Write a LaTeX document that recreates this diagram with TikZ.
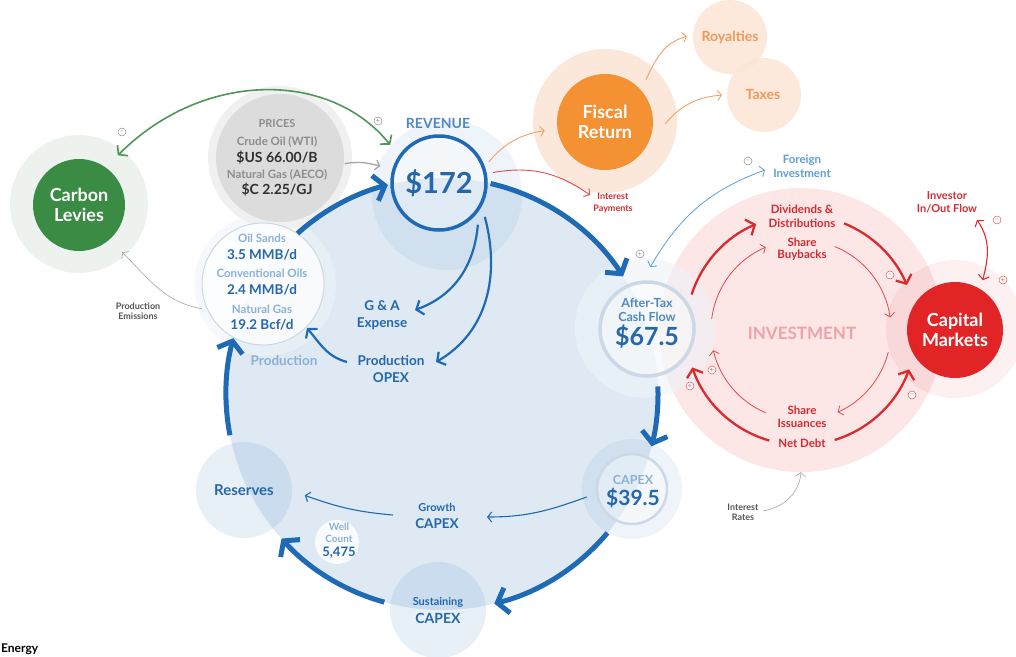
\documentclass[tikz,border=0pt]{standalone}
\usepackage{fontspec}
\setmainfont{Lato}
\usetikzlibrary{arrows.meta,calc}
\definecolor{bdark}{HTML}{1F6AB4}
\definecolor{btext}{HTML}{2467AC}
\definecolor{blight}{HTML}{8BB1D8}
\definecolor{bmid}{HTML}{4E89C5}
\definecolor{bfor}{HTML}{5B9FD6}
\definecolor{bfill}{HTML}{DEE9F4}
\definecolor{bhalo}{HTML}{EEF3F9}
\definecolor{bring}{HTML}{CCD8E5}
\definecolor{rdark}{HTML}{DB2A2E}
\definecolor{rtext}{HTML}{D32B31}
\definecolor{rlight}{HTML}{EFA3A5}
\definecolor{pinkfill}{HTML}{FCE6E6}
\definecolor{capred}{HTML}{E12426}
\definecolor{orng}{HTML}{F49132}
\definecolor{peach}{HTML}{FBE4D3}
\definecolor{orngtext}{HTML}{EE9959}
\definecolor{orngline}{HTML}{EEA266}
\definecolor{grn}{HTML}{3A8B44}
\definecolor{grnline}{HTML}{4F9658}
\definecolor{gtext}{HTML}{8C8C8C}
\definecolor{gdark}{HTML}{303030}
\definecolor{glab}{HTML}{555555}
\definecolor{gline}{HTML}{A5A5A5}
\definecolor{gfill}{HTML}{DCDCDC}
\definecolor{ghalo}{HTML}{F0F0F0}
\definecolor{grnhalo}{HTML}{EEF2EE}
\tikzset{
  fs/.style 2 args={font=\bfseries\fontsize{#1}{#2}\selectfont},
  txt/.style={inner sep=0pt, align=center},
  disc/.style={circle, inner sep=0pt, minimum size=#1},
  bigarrow/.style={draw=bdark, line width=5pt, -{Straight Barb[length=10pt,width=26pt]}},
  midarrow/.style={draw=bdark, line width=2.2pt, -{Straight Barb[length=6pt,width=15pt]}},
  thinarrow/.style={line width=0.9pt, -{Straight Barb[length=4pt,width=10pt]}},
  dblthin/.style={line width=1pt, {Straight Barb[length=4pt,width=11pt]}-{Straight Barb[length=4pt,width=11pt]}},
  redouter/.style={draw=rdark, line width=2.3pt, -{Straight Barb[length=7pt,width=17pt]}},
  redinner/.style={draw=rdark!85, line width=0.8pt, -{Straight Barb[length=4pt,width=10pt]}},
  sgn/.style={circle, draw=#1, line width=0.5pt, fill=white, inner sep=0pt, minimum size=8pt, font=\fontsize{7}{7}\selectfont, text=#1},
}
\begin{document}
\begin{tikzpicture}[x=1pt,y=1pt]
\useasboundingbox (0,0) rectangle (1016,-656);
% ---------- background discs ----------
\node[disc=284pt, fill=pinkfill] (inv) at (801,-330) {};
\node[disc=138pt, fill=rdark, fill opacity=0.07] (caphalo) at (955,-329) {};
\node[disc=144pt, fill=peach, fill opacity=0.85] (fischalo) at (605,-121) {};
\node[disc=74pt, fill=peach, fill opacity=0.8] (roy) at (730,-37) {};
\node[disc=74pt, fill=peach, fill opacity=0.8] (tax) at (764,-95) {};
\node[disc=138pt, fill=grnhalo] (carbhalo) at (79,-204) {};
\node[disc=144pt, fill=ghalo] (pricehalo) at (280,-158) {};
\node[disc=432pt, fill=bfill] (cyc) at (442,-394) {};
\node[disc=150pt, fill=bdark, fill opacity=0.07] (revhalo) at (447,-195) {};
\node[disc=140pt, fill=bhalo, fill opacity=0.6] (afthalo) at (645,-328) {};
\node[disc=100pt, fill=bdark, fill opacity=0.07] (capexhalo) at (632,-489) {};
\node[disc=142pt, fill=bhalo, fill opacity=0.55] (prodhalo) at (265,-285) {};
\node[disc=96pt, fill=bdark, fill opacity=0.1] (res) at (244,-490) {};
\node[disc=96pt, fill=bdark, fill opacity=0.1] (sust) at (438,-610) {};
% ---------- main circles ----------
\node[disc=128pt, fill=gfill] (prices) at (280,-158) {};
\node[disc=92pt, fill=grn, text=white, fs={18}{20}, align=center] (carbon) at (79,-205) {Carbon\\Levies};
\node[disc=96pt, fill=orng, text=white, fs={18}{20}, align=center] (fiscal) at (605,-122) {Fiscal\\Return};
\node[disc=96pt, fill=capred, text=white, fs={18}{20}, align=center] (cap) at (955,-330) {Capital\\Markets};
\node[disc=122pt, draw=bring, line width=1pt, fill=white, fill opacity=0.75] (prod) at (263,-284) {};
\node[disc=94pt, draw=bdark, line width=3.5pt, fill=white, fill opacity=0.35, text opacity=1, fs={29}{29}, text=btext] (rev) at (439,-183) {\$172};
\node[disc=94pt, draw=bring, line width=3.5pt, fill=white, fill opacity=0.4] (aft) at (647,-329) {};
\node[disc=70pt, draw=bring, line width=2.5pt, fill=white, fill opacity=0.4] (capex) at (632,-489) {};
\node[disc=44pt, fill=white, fill opacity=0.85] (well) at (337,-542) {};
% ---------- main cycle arrows ----------
\draw[bigarrow] ($(cyc.center)+(132:216)$) arc[start angle=132, end angle=104.5, radius=216];
\draw[bigarrow] ($(cyc.center)+(77:216)$) arc[start angle=77, end angle=33, radius=216];
\draw[bigarrow] ($(cyc.center)+(2:216)$) arc[start angle=2, end angle=-14, radius=216];
\draw[bigarrow] ($(cyc.center)+(-40:216)$) arc[start angle=-40, end angle=-76, radius=216];
\draw[bigarrow] ($(cyc.center)+(254.5:216)$) arc[start angle=254.5, end angle=222, radius=216];
\draw[bigarrow] ($(cyc.center)+(191:216)$) arc[start angle=191, end angle=165, radius=216];
% ---------- investment arrows ----------
\draw[redouter] ($(inv.center)+(162:115)$) arc[start angle=162, end angle=113, radius=115];
\draw[redouter] ($(inv.center)+(68:115)$) arc[start angle=68, end angle=23, radius=115];
\draw[redouter] ($(inv.center)+(-73:115)$) arc[start angle=-73, end angle=-20, radius=115];
\draw[redouter] ($(inv.center)+(254:115)$) arc[start angle=254, end angle=199, radius=115];
\draw[redinner] ($(inv.center)+(173:90)$) arc[start angle=173, end angle=113, radius=90];
\draw[redinner] ($(inv.center)+(68:90)$) arc[start angle=68, end angle=8, radius=90];
\draw[redinner] ($(inv.center)+(-14:90)$) arc[start angle=-14, end angle=-66, radius=90];
\draw[redinner] ($(inv.center)+(247:90)$) arc[start angle=247, end angle=193, radius=90];
% ---------- coordinates for free ends ----------
\coordinate (gA) at ($(carbon.center)+(52:63)$);
\coordinate (gB) at ($(rev.center)+(142:62)$);
\coordinate (pS) at ($(prices.center)+(-5:65)$);
\coordinate (pE) at ($(rev.center)+(164:61)$);
\coordinate (eS) at ($(prod.center)+(202:66)$);
\coordinate (eE) at ($(carbon.center)+(-47.5:64)$);
\coordinate (gaS) at ($(rev.center)+(-47:57)$);
\coordinate (gaE) at (415,-310);
\coordinate (opS) at ($(rev.center)+(-36.5:57)$);
\coordinate (opE) at (436,-362);
\coordinate (opL) at (347,-362);
\coordinate (prE) at (307,-328);
\coordinate (fS) at ($(rev.center)+(23:54)$);
\coordinate (fE) at ($(fiscal.center)+(188:61)$);
\coordinate (iS) at ($(rev.center)+(11:55)$);
\coordinate (iE) at (590,-195);
\coordinate (rS) at ($(fiscal.center)+(46:59)$);
\coordinate (rE) at ($(roy.center)+(179:43)$);
\coordinate (tS) at ($(fiscal.center)+(-2:60)$);
\coordinate (tE) at ($(tax.center)+(180:42)$);
\coordinate (fiS) at ($(aft.center)+(87:62)$);
\coordinate (fiE) at (765,-170);
\coordinate (cgS) at ($(capex.center)+(190:46)$);
\coordinate (cgE) at (487,-517);
\coordinate (grS) at (393,-515);
\coordinate (grE) at ($(res.center)+(-5:61)$);
\coordinate (irS) at (763,-511);
\coordinate (ivU) at (977,-220);
\coordinate (ivL) at ($(cap.center)+(61:57)$);
% ---------- connectors ----------
\draw[grnline, line width=1.6pt, {Straight Barb[length=6pt,width=15pt]}-{Straight Barb[length=6pt,width=15pt]}] (gA) .. controls (203,-70) and (330,-70) .. (gB);
\draw[thinarrow, draw=gline, line width=1.3pt] (pS) to[out=10, in=165] (pE);
\draw[thinarrow, draw=gline, line width=0.6pt] (eS) to[out=170, in=-45] (eE);
\draw[midarrow] (gaS) to[out=-95, in=20] (gaE);
\draw[midarrow] (opS) to[out=-75, in=30] (opE);
\draw[midarrow] (opL) to[out=165, in=-50] (prE);
\draw[thinarrow, draw=orngline] (fS) to[out=50, in=190] (fE);
\draw[thinarrow, draw=rdark!85] (iS) to[out=10, in=145] (iE);
\draw[thinarrow, draw=orngline] (rS) to[out=65, in=195] (rE);
\draw[thinarrow, draw=orngline] (tS) to[out=50, in=185] (tE);
\draw[dblthin, draw=bfor, line width=0.8pt] (fiS) to[out=60, in=200] (fiE);
\draw[thinarrow, draw=bdark, line width=1.1pt] (cgS) to[out=200, in=0] (cgE);
\draw[thinarrow, draw=bdark, line width=1.1pt] (grS) to[out=175, in=-20] (grE);
\draw[thinarrow, draw=gline, line width=0.6pt] (irS) to[out=10, in=-95] (inv.south);
\draw[dblthin, draw=rdark, line width=1.1pt] (ivU) to[out=-55, in=75] (ivL);
% ---------- signs ----------
\node[sgn=gtext] (s1) at (122,-132) {–};
\node[sgn=gtext] (s2) at (378,-121) {+};
\node[sgn=gtext] (s3) at (748,-161) {–};
\node[sgn=gtext] (s4) at (640,-254) {+};
\node[sgn=rdark!80] (s5) at (890,-275) {–};
\node[sgn=rdark!80] (s6) at (912,-395) {–};
\node[sgn=rdark!80] (s7) at (690,-386) {+};
\node[sgn=rdark!80] (s8) at (712,-370) {+};
\node[sgn=rdark!80] (s9) at (997,-220) {–};
\node[sgn=rdark!80] (s10) at (1003,-280) {+};
% ---------- texts ----------
\node[txt, fs={14}{14}, text=bmid] (revlab) at (438,-123) {REVENUE};
\node[txt, fs={11}{11}, text=gtext] (pr1) at (277,-124) {PRICES};
\node[txt, fs={11.5}{11.5}, text=gtext] (pr2) at (277,-142) {Crude Oil (WTI)};
\node[txt, fs={14}{14}, text=gdark] (pr3) at (277,-158) {\$US 66.00/B};
\node[txt, fs={11.5}{11.5}, text=gtext] (pr4) at (277,-175) {Natural Gas (AECO)};
\node[txt, fs={14}{14}, text=gdark] (pr5) at (277,-190) {\$C 2.25/GJ};
\node[txt, fs={11.5}{11.5}, text=blight] (pd1) at (262,-238) {Oil Sands};
\node[txt, fs={13.5}{13.5}, text=btext] (pd2) at (262,-255) {3.5 MMB/d};
\node[txt, fs={11.5}{11.5}, text=blight] (pd3) at (262,-273) {Conventional Oils};
\node[txt, fs={13.5}{13.5}, text=btext] (pd4) at (262,-290) {2.4 MMB/d};
\node[txt, fs={11.5}{11.5}, text=blight] (pd5) at (262,-309) {Natural Gas};
\node[txt, fs={13.5}{13.5}, text=btext] (pd6) at (262,-325) {19.2 Bcf/d};
\node[txt, fs={13.5}{13.5}, text=blight] (prodlab) at (284,-361) {Production};
\node[txt, fs={9}{10}, text=glab] (emis) at (138,-311) {Production\\Emissions};
\node[txt, fs={13.5}{17}, text=btext] (ga) at (382,-315) {G \& A\\Expense};
\node[txt, fs={13.5}{17}, text=btext] (opex) at (391,-369) {Production\\OPEX};
\node[txt, fs={14}{14}, text=orngtext] (roylab) at (730,-37) {Royalties};
\node[txt, fs={14}{14}, text=orngtext] (taxlab) at (763,-94) {Taxes};
\node[txt, fs={9}{12}, text=rtext] (intpay) at (613,-203) {Interest\\Payments};
\node[txt, fs={11.5}{14}, text=bfor] (foreign) at (802,-166) {Foreign\\Investment};
\node[txt, fs={12.5}{14}, text=bmid] (aft1) at (647,-310) {After-Tax\\Cash Flow};
\node[txt, fs={25}{25}, text=btext] (aft2) at (647,-337) {\$67.5};
\node[txt, fs={17}{17}, text=rlight] (invlab) at (802,-333) {INVESTMENT};
\node[txt, fs={11.5}{14}, text=rtext] (div) at (802,-216) {Dividends \&\\Distributions};
\node[txt, fs={11.5}{12.5}, text=rtext] (buy) at (802,-249) {Share\\Buybacks};
\node[txt, fs={11.5}{12.5}, text=rtext] (iss) at (802,-417) {Share\\Issuances};
\node[txt, fs={11.5}{11.5}, text=rtext] (debt) at (802,-443) {Net Debt};
\node[txt, fs={11}{13}, text=rtext] (investor) at (947,-202) {Investor\\In/Out Flow};
\node[txt, fs={9}{10}, text=glab] (intrate) at (743,-512) {Interest\\Rates};
\node[txt, fs={12.5}{12.5}, text=blight] (cx1) at (633,-480) {CAPEX};
\node[txt, fs={21}{21}, text=btext] (cx2) at (633,-498) {\$39.5};
\node[txt, fs={11}{11}, text=btext] (gr1) at (437,-507) {Growth};
\node[txt, fs={13.5}{13.5}, text=btext] (gr2) at (437,-524) {CAPEX};
\node[txt, fs={15}{15}, text=btext] (reslab) at (244,-490) {Reserves};
\node[txt, fs={10}{10}, text=blight] (wc1) at (339,-527) {Well};
\node[txt, fs={10}{10}, text=blight] (wc2) at (339,-539) {Count};
\node[txt, fs={13}{13}, text=btext] (wc3) at (339,-553) {5,475};
\node[txt, fs={11}{11}, text=btext] (su1) at (438,-602) {Sustaining};
\node[txt, fs={14}{14}, text=btext] (su2) at (438,-618) {CAPEX};
\node[anchor=base west, inner sep=0pt, fs={12}{12}, text=black] (energy) at (1,-652) {Energy};
\end{tikzpicture}
\end{document}
